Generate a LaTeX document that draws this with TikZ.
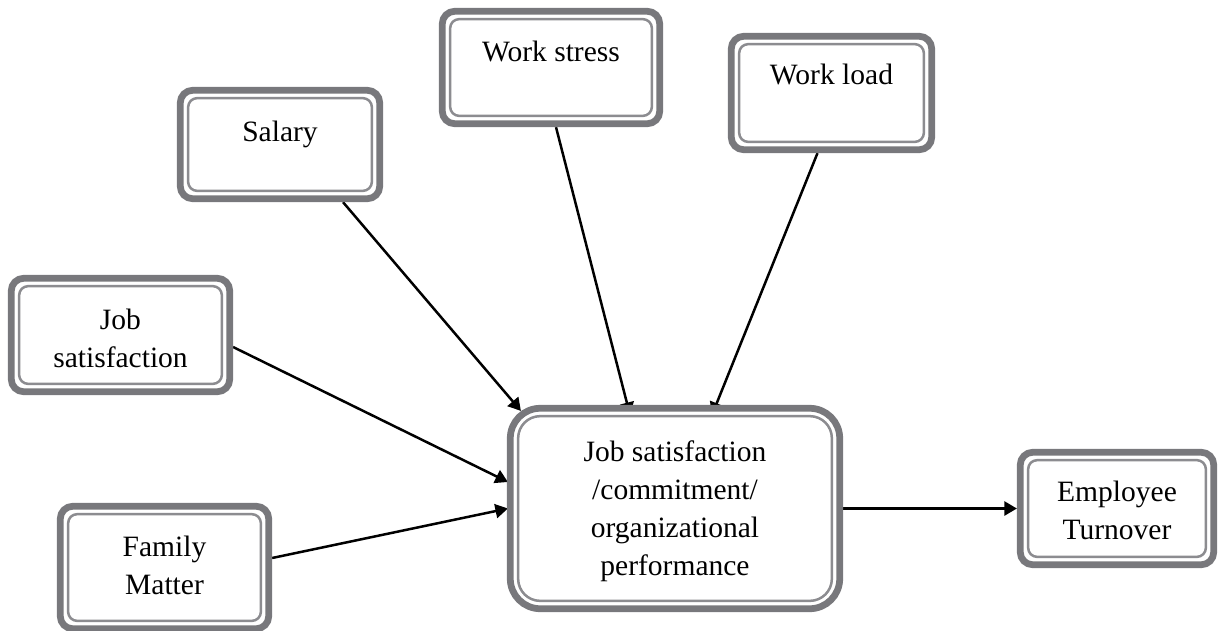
\documentclass[tikz,border=0pt]{standalone}
\usepackage{fontspec}
\setmainfont{Liberation Serif}
\usepackage{tikz}
\usetikzlibrary{arrows.meta,positioning,calc,backgrounds}

\definecolor{boxgray}{RGB}{120,120,124}
\definecolor{linegray}{RGB}{140,140,144}

\tikzset{
  box/.style={draw=boxgray, line width=0.135cm, fill=white, rounded corners=0.25cm, inner sep=0pt},
  bigbox/.style={box, rounded corners=0.6cm},
  txt/.style={font=\fontsize{16.8}{21.6}\selectfont, align=center, inner sep=0pt},
  arr/.style={-{Triangle[length=0.25cm,width=0.28cm]}, line width=0.05cm}
}

\begin{document}
\begin{tikzpicture}[x=0.02cm, y=-0.02cm]
                    \useasboundingbox (0,0) rectangle (1218,630);
                    % boxes
                    \node[box, minimum width=3.99cm, minimum height=2.17cm] (salary) at (280,144.5) {};
                    \node[box, minimum width=4.35cm, minimum height=2.25cm] (stress) at (551,67.5) {};
                    \node[box, minimum width=4.01cm, minimum height=2.27cm] (load) at (831.5,93) {};
                    \node[box, minimum width=4.37cm, minimum height=2.27cm] (jobsat) at (120.5,335) {};
                    \node[box, minimum width=4.17cm, minimum height=2.45cm] (family) at (164.5,567.5) {};
                    \node[bigbox, minimum width=6.59cm, minimum height=4.01cm] (main) at (675,508.5) {};
                    \node[box, minimum width=3.87cm, minimum height=2.25cm] (turnover) at (1117,508.5) {};
                    % inner lines
                    \foreach \n/\r in {salary/0.18cm, stress/0.18cm, load/0.18cm, jobsat/0.18cm, family/0.18cm, turnover/0.18cm, main/0.44cm}
                        \draw[linegray, line width=0.05cm, rounded corners=\r] ([shift={(0.225cm,-0.225cm)}]\n.north west) rectangle ([shift={(-0.225cm,0.225cm)}]\n.south east);
                    % texts
                    \node[txt, below=0.56cm of salary.north] (salary-text) {\strut Salary};
                    \node[txt, below=0.54cm of stress.north] (stress-text) {\strut Work stress};
                    \node[txt, below=0.50cm of load.north] (load-text) {\strut Work load};
                    \node[txt, below=0.56cm of jobsat.north] (jobsat-text) {\strut Job\\ satisfaction};
                    \node[txt, below=0.54cm of family.north] (family-text) {\strut Family\\ Matter};
                    \node[txt, below=0.60cm of main.north] (main-text) {\strut Job satisfaction\\ /commitment/\\ organizational\\ performance};
                    \node[txt, below=0.52cm of turnover.north] (turnover-text) {\strut Employee\\ Turnover};
                    % arrows
                    \begin{pgfonlayer}{background}
                    \draw[arr] ($(salary.south)+(63,0)$) -- ($(main.north west)+(14,6)$);
                    \draw[arr] ($(stress.south)+(5,0)$) -- ($(main.north)+(-45,10)$);
                    \draw[arr] ($(load.south)+(-14,0)$) -- ($(main.north)+(37,10)$);
                    \draw[arr] ($(jobsat.east)+(0,12)$) -- ($(main.west)+(1,-26.5)$);
                    \draw[arr] ($(family.east)+(0,-9.5)$) -- ($(main.west)+(1,0)$);
                    \draw[arr] (main) -- (turnover);
                    \end{pgfonlayer}
                \end{tikzpicture}
\end{document}
